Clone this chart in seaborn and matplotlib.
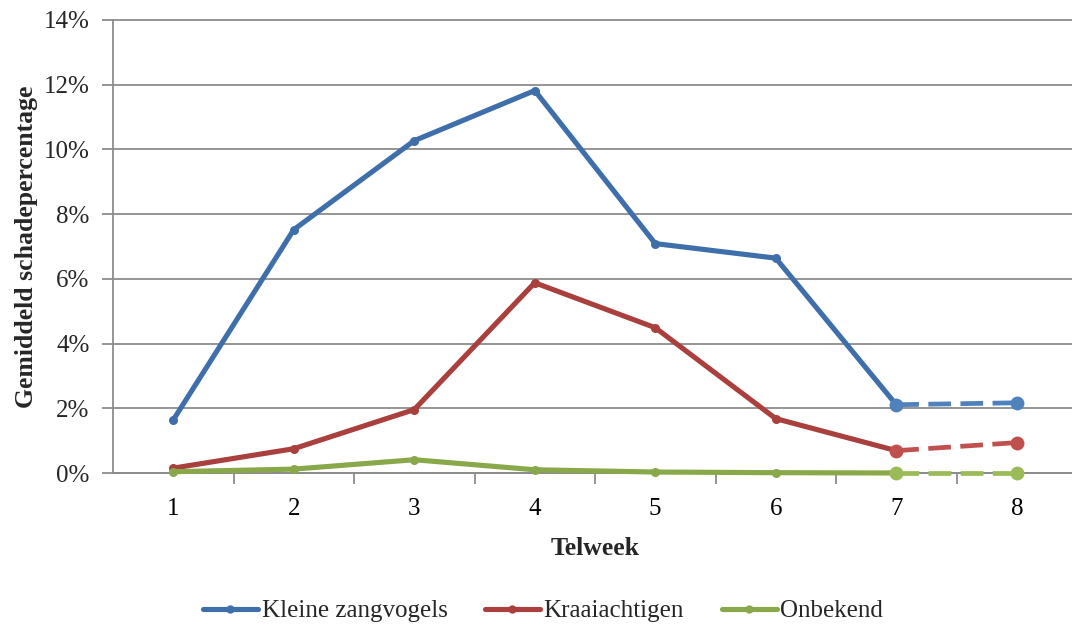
import matplotlib
matplotlib.use("Agg")
import matplotlib.pyplot as plt
from matplotlib.lines import Line2D
from matplotlib.ticker import FixedLocator
import seaborn as sns
import pandas as pd
import numpy as np

# Data: average damage percentage per counting week
weeks = [1, 2, 3, 4, 5, 6, 7, 8]
series_names = ["Kleine zangvogels", "Kraaiachtigen", "Onbekend"]
kleine_zangvogels = [1.64, 7.52, 10.27, 11.82, 7.09, 6.64, 2.11, 2.17]
kraaiachtigen = [0.15, 0.75, 1.96, 5.88, 4.49, 1.68, 0.69, 0.94]
onbekend = [0.04, 0.12, 0.41, 0.10, 0.03, 0.01, 0.00, 0.00]
ytick_labels = ["0%", "2%", "4%", "6%", "8%", "10%", "12%", "14%"]

solid_colors = ["#3F6FAA", "#AA403D", "#88A84A"]
dash_colors = ["#4F81BD", "#C0504D", "#9BBB59"]

rows = []
for name, vals in zip(series_names, [kleine_zangvogels, kraaiachtigen, onbekend]):
    for w, v in zip(weeks, vals):
        rows.append({"Telweek": w, "serie": name, "waarde": v})
df = pd.DataFrame(rows)
df_solid = df[df["Telweek"] <= 7]
df_dash = df[df["Telweek"] >= 7]

sns.set_theme(style="white")
plt.rcParams["font.family"] = ["Liberation Serif", "DejaVu Serif"]

fig = plt.figure(figsize=(10.72, 6.27), dpi=100)
ax = fig.add_axes([113 / 1072, 154 / 627, 964 / 1072, 453 / 627])

grid_color = "#8C8C8C"
for yv in range(0, 15, 2):
    ax.axhline(yv, color=grid_color, lw=1.3, zorder=0)

# solid part (weeks 1-7)
sns.lineplot(data=df_solid, x="Telweek", y="waarde", hue="serie",
             hue_order=series_names, palette=solid_colors, ax=ax,
             linewidth=3.7, marker="o", markersize=6.5,
             markeredgewidth=0, legend=False, zorder=4)
# dashed continuation (weeks 7-8)
sns.lineplot(data=df_dash, x="Telweek", y="waarde", hue="serie",
             hue_order=series_names, palette=dash_colors, ax=ax,
             linewidth=3.4, linestyle=(0, (4.8, 2.0)), marker="o",
             markersize=10, markeredgewidth=0, legend=False, zorder=5)
for ln in ax.get_lines():
    ln.set_clip_on(False)

ax.set_xlim(0.5, 8.5)
ax.set_ylim(0, 14)
ax.set_xticks(weeks)
ax.set_xticklabels([str(w) for w in weeks])
ax.xaxis.set_minor_locator(FixedLocator(np.arange(1.5, 8.6, 1.0)))
ax.set_yticks(range(0, 15, 2))
ax.set_yticklabels(ytick_labels)

ax.tick_params(axis="x", which="major", length=0, labelsize=18, pad=18, colors="black")
ax.tick_params(axis="x", which="minor", bottom=True, length=8, width=1.3, color=grid_color)
ax.tick_params(axis="y", which="major", left=True, length=8, width=1.3,
               color=grid_color, labelsize=18, pad=9)

for side in ["top", "right"]:
    ax.spines[side].set_visible(False)
for side in ["left", "bottom"]:
    ax.spines[side].set_color(grid_color)
    ax.spines[side].set_linewidth(1.3)

ax.set_xlabel("Telweek", fontsize=18.5, fontweight="bold", labelpad=12)
ax.set_ylabel("Gemiddeld schadepercentage", fontsize=18.5, fontweight="bold", labelpad=4)

handles = [Line2D([0], [0], color=c, lw=3.7, marker="o", markersize=6,
                  markeredgewidth=0) for c in solid_colors]
fig.legend(handles, series_names, loc="center", bbox_to_anchor=(543 / 1072, 1 - 611 / 627),
           ncol=3, frameon=False, fontsize=18, handlelength=2.2,
           handletextpad=0.15, columnspacing=1.5)

fig.savefig("out.png", dpi=100)
